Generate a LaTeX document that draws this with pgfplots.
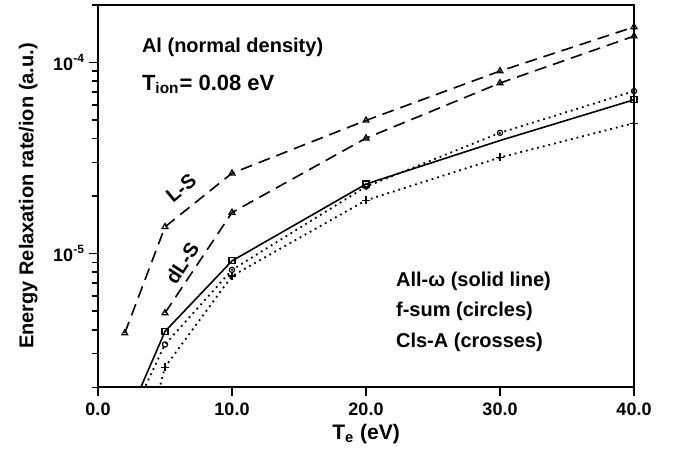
\documentclass[border=0pt]{standalone}
\usepackage{fontspec}
\setmainfont{Liberation Sans}
\usepackage{pgfplots}
\pgfplotsset{compat=1.18}

\begin{document}
\begin{tikzpicture}
\begin{axis}[
  scale only axis,width=268pt,height=191.3pt,
  ymode=log,xmin=0,xmax=40,ymin=2e-6,ymax=2e-4,
  axis line style={line width=1.1pt},
  xtick={0,10,20,30,40},xticklabels={0.0,10.0,20.0,30.0,40.0},
  ytick={1e-5,1e-4},yticklabels={10\textsuperscript{-5},10\textsuperscript{-4}},
  minor ytick={2e-6,3e-6,4e-6,5e-6,6e-6,7e-6,8e-6,9e-6,2e-5,3e-5,4e-5,5e-5,6e-5,7e-5,8e-5,9e-5,2e-4},
  xtick pos=left,ytick pos=left,tick align=outside,
  major tick length=4.5pt,minor tick length=3.2pt,
  tick style={line width=0.8pt,black},
  tick label style={font=\fontsize{9}{10}\selectfont\bfseries},
  yticklabel style={xshift=1.5pt},
  xlabel={T\textsubscript{e} (eV)},
  ylabel={Energy Relaxation rate/ion (a.u.)},
  xlabel style={font=\fontsize{10.5}{12}\selectfont\bfseries,yshift=3pt},
  ylabel style={font=\fontsize{10}{12}\selectfont\bfseries,yshift=1pt},
]
% L-S
\addplot[black,line width=0.8pt,dash pattern=on 6pt off 3.5pt,
  mark=triangle,mark size=1.7pt,mark options={solid,line width=0.6pt}]
  coordinates {(2,3.84e-6) (5,1.38e-5) (10,2.63e-5) (20,4.97e-5) (30,9.0e-5) (40,1.53e-4)};
% dL-S
\addplot[black,line width=0.8pt,dash pattern=on 6pt off 3.5pt,
  mark=triangle,mark size=1.7pt,mark options={solid,line width=0.6pt}]
  coordinates {(5,4.89e-6) (10,1.64e-5) (20,4.01e-5) (30,7.79e-5) (40,1.37e-4)};
% All-omega (solid line), squares
\addplot[black,line width=0.8pt]
  coordinates {(3,1.86e-6) (5,3.92e-6) (10,9.16e-6) (20,2.31e-5) (30,3.9e-5) (40,6.37e-5)};
\addplot[black,only marks,mark=square,mark size=1.5pt,mark options={solid,line width=0.6pt}]
  coordinates {(5,3.92e-6) (10,9.16e-6) (20,2.31e-5) (40,6.37e-5)};
% f-sum, circles
\addplot[black,line width=0.9pt,dash pattern=on 0.9pt off 2pt]
  coordinates {(3,1.69e-6) (5,3.35e-6) (10,8.22e-6) (20,2.24e-5) (30,4.28e-5) (40,7.07e-5)};
\addplot[black,only marks,mark=o,mark size=1.3pt,mark options={solid,line width=0.6pt}]
  coordinates {(5,3.35e-6) (10,8.22e-6) (20,2.24e-5) (30,4.28e-5) (40,7.07e-5)};
% Cls-A, crosses
\addplot[black,line width=0.9pt,dash pattern=on 0.9pt off 2pt]
  coordinates {(4,1.38e-6) (5,2.55e-6) (10,7.64e-6) (20,1.9e-5) (30,3.18e-5) (40,4.81e-5)};
\addplot[black,only marks,mark=+,mark size=2pt,mark options={solid,line width=0.6pt}]
  coordinates {(5,2.55e-6) (10,7.64e-6) (20,1.9e-5) (30,3.18e-5) (40,4.81e-5)};

\node[anchor=base west,font=\fontsize{10}{12}\selectfont\bfseries] at (rel axis cs:0.069,0.874) {Al (normal density)};
\node[anchor=base west,font=\fontsize{11}{13}\selectfont\bfseries] at (rel axis cs:0.069,0.777) {T\textsubscript{ion}= 0.08 eV};
\node[rotate=40,font=\fontsize{10}{12}\selectfont\bfseries] at (rel axis cs:0.155,0.52) {L-S};
\node[rotate=57,font=\fontsize{10}{12}\selectfont\bfseries] at (rel axis cs:0.157,0.324) {dL-S};
\node[anchor=base west,font=\fontsize{10}{12}\selectfont\bfseries] at (rel axis cs:0.543,0.264) {All-ω (solid line)};
\node[anchor=base west,font=\fontsize{10}{12}\selectfont\bfseries] at (rel axis cs:0.543,0.184) {f-sum (circles)};
\node[anchor=base west,font=\fontsize{10}{12}\selectfont\bfseries] at (rel axis cs:0.543,0.105) {Cls-A (crosses)};
\end{axis}
\path ([shift={(-49pt,-32pt)}]current axis.south west) rectangle ([shift={(21.5pt,2.35pt)}]current axis.north east);
\end{tikzpicture}
\end{document}
